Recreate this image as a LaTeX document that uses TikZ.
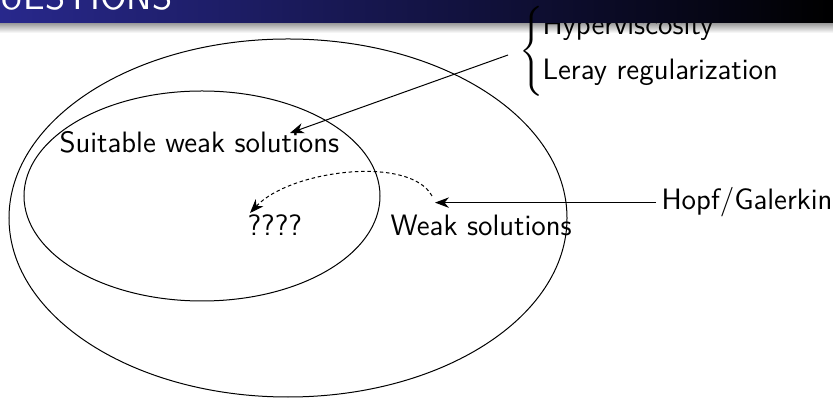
\documentclass[tikz,border=0pt]{standalone}
\usepackage{amsmath}
\usetikzlibrary{arrows.meta,shapes.geometric}

\definecolor{titleblue}{RGB}{40,40,140}

\begin{document}
\begin{tikzpicture}[x=0.4pt, y=-0.4pt, >={Stealth[length=5.6pt, width=4.2pt, inset=1.8pt]},
    font=\sffamily\fontsize{11.8}{14}\selectfont,
    set/.style={draw, ellipse, inner sep=0pt},
    label/.style={anchor=base west, inner sep=0pt},
    hint/.style={dash pattern=on 1.4pt off 1.1pt}]
    \useasboundingbox (0,0) rectangle (833,398);
    \clip (0,0) rectangle (833,398);

    % Shadow under the title bar
    \shade [top color=black!40, bottom color=white] (0,23) rectangle (833,33);

    % Sets {weak, suitable}
    \node [set, minimum width=223.2pt, minimum height=143.2pt] (weakset)     at (288,218) {};
    \node [set, minimum width=142.4pt, minimum height=84pt]    (suitableset) at (202,196) {};

    % Labels
    \node [label]            (suitable) at (59,153)  {Suitable weak solutions};
    \node [label]            (unknown)  at (247,236) {????};
    \node [label]            (weak)     at (390,236) {Weak solutions};
    \node [label, inner sep=2pt] (hopf) at (656,210) {Hopf/Galerkin};
    \node [label]            (hyper)    at (542,35)  {Hyperviscosity};
    \node [label]            (leray)    at (542,80)  {Leray regularization};

    % Ends of the arrows
    \coordinate (fork)         at (508,55);
    \coordinate (suitabletip)  at (290,133);
    \coordinate (hopftip)      at (435,202);
    \coordinate (dashstart)    at (432,196);
    \coordinate (unknowntip)   at (250,213);

    % Paths
    \path [->] (fork) edge (suitabletip);
    \path [->] (hopf.west) edge (hopf.west -| hopftip);
    \draw [->, hint] (dashstart) .. controls (410,155) and (290,170) .. (unknowntip);

    % Title bar
    \shade [left color=titleblue, right color=black] (0,0) rectangle (833,23);
    \node [label, white, font=\sffamily\fontsize{14.8}{18}\selectfont] (title) at (-28,9.5) {QUESTIONS};

    % Brace
    \node [anchor=west, inner sep=0pt] (brace) at (519,51)
        {$\left\{\vcenter{\hbox{\rule{0pt}{33pt}}}\right.$};
\end{tikzpicture}
\end{document}
